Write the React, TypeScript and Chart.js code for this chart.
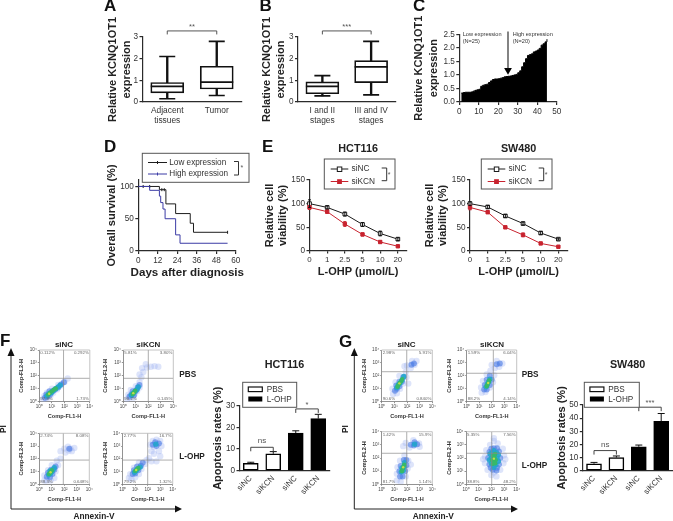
import React, { useEffect, useRef } from "react";
import { Chart, registerables } from "chart.js";
Chart.register(...registerables);

const CW = 760, CH = 560;
const INK = "#222", AX = "#2b2b2b", TICK = "#333";
const FAM = '"Liberation Sans", Arial, sans-serif';
Chart.defaults.font.family = FAM;

// ---------- data ----------
const A_CATS = [["Adjacent", "tissues"], "Tumor"];
const A_MIN = [0.15, 0.3], A_Q1 = [0.42, 0.6], A_MED = [0.72, 0.92], A_Q3 = [0.9, 1.65], A_MAX = [2.1, 2.8];
const B_CATS = [["I and II", "stages"], ["III and IV", "stages"]];
const B_MIN = [0.28, 0.33], B_Q1 = [0.38, 0.89], B_MED = [0.72, 1.62], B_Q3 = [0.93, 1.91], B_MAX = [1.22, 2.8];
const C_VALUES = [0.33, 0.35, 0.36, 0.36, 0.36, 0.37, 0.4, 0.43, 0.45, 0.47, 0.58, 0.62, 0.64, 0.66, 0.72, 0.78, 0.83, 0.85, 0.85, 0.86, 0.88, 0.9, 0.93, 0.94, 0.95, 0.96, 0.98, 1.0, 1.02, 1.08, 1.15, 1.3, 1.45, 1.6, 1.72, 1.75, 1.78, 1.85, 1.88, 1.92, 1.98, 2.1, 2.15, 2.22, 2.32];
const D_LOW_X = [0, 13, 17, 23, 32, 34, 55], D_LOW_Y = [100, 95, 73, 58, 43, 29, 29];
const D_HIGH_X = [0, 7, 13, 13.8, 15.2, 16.5, 23, 25.7, 55], D_HIGH_Y = [100, 94, 85, 75, 65, 50, 25, 12, 12];
const D_CENSOR_X = [3, 7, 14.5, 16, 55], D_CENSOR_Y = [100, 100, 95, 95, 29];
const E_DOSES = ["0", "1", "2.5", "5", "10", "20"];
const HCT_NC = [100, 92, 78, 56, 37, 25], HCT_NC_ERR = [8, 3, 4, 4, 5, 3];
const HCT_KCN = [92, 83, 57, 35, 19, 10], HCT_KCN_ERR = [4, 3, 5, 3, 2, 1];
const SW_NC = [100, 93, 74, 58, 38, 25], SW_NC_ERR = [4, 3, 3, 3, 3, 2];
const SW_KCN = [92, 82, 50, 34, 16, 9], SW_KCN_ERR = [5, 3, 2, 4, 2, 1];
const APO_CATS = ["siNC", "siKCN", "siNC", "siKCN"];
const F_APO = [3.4, 7.8, 17.3, 24], F_APO_ERR = [0.5, 1, 1.1, 2];
const G_APO = [5.3, 10, 18.2, 37.5], G_APO_ERR = [1, 1.2, 1.3, 6];
const DECADES = ["10⁰", "10¹", "10²", "10³", "10⁴"];

const F1_PCT = ["0.112%", "0.292%", "97.9%", "1.73%"];
const F1_PALE = [[0.3, 0.2], [0.5, 0.25], [0.4, 0.45], [0.7, 0.3], [0.9, 0.5], [0.6, 0.7], [1.1, 0.7], [1.0, 1.0], [1.4, 0.95], [1.7, 1.25], [1.5, 1.3], [2.0, 1.55], [2.25, 1.8]];
const F1_BLUE = [[0.45, 0.3], [0.65, 0.4], [0.55, 0.55], [0.85, 0.55], [0.8, 0.8], [1.05, 0.8], [1.25, 0.95], [1.5, 1.1], [1.75, 1.35], [1.95, 1.5]];
const F1_CYAN = [[0.6, 0.45], [0.75, 0.6], [0.95, 0.7], [1.1, 0.85], [1.3, 1.0], [1.5, 1.15], [1.65, 1.28]];
const F1_GREEN = [[0.7, 0.55], [0.85, 0.7], [1.0, 0.8], [1.15, 0.92], [1.3, 1.02]];
const F1_HOT = [[0.78, 0.62]];

const F2_PCT = ["5.81%", "3.80%", "90.2%", "0.145%"];
const F2_PALE = [[0.3, 0.2], [0.5, 0.3], [0.4, 0.55], [0.8, 0.3], [0.9, 0.6], [0.6, 0.9], [1.1, 0.8], [1.0, 1.2], [1.3, 1.1], [1.3, 1.5], [1.45, 1.9], [1.3, 2.1], [1.6, 2.3], [1.5, 2.6], [1.9, 2.65], [2.2, 2.7], [2.5, 2.75], [2.8, 2.7], [1.8, 2.9]];
const F2_BLUE = [[0.5, 0.4], [0.65, 0.55], [0.85, 0.5], [0.75, 0.8], [1.0, 0.85], [1.15, 1.1], [1.3, 1.3]];
const F2_CYAN = [[0.65, 0.5], [0.8, 0.65], [0.95, 0.8], [1.1, 0.95], [1.2, 1.15]];
const F2_GREEN = [[0.75, 0.6], [0.85, 0.72], [0.95, 0.85]];
const F2_HOT = [[0.8, 0.66]];

const F3_PCT = ["2.74%", "8.08%", "88.3%", "0.648%"];
const F3_PALE = [[0.4, 0.3], [0.6, 0.3], [0.4, 0.7], [0.9, 0.3], [1.2, 0.5], [0.7, 1.1], [1.3, 1.0], [1.0, 1.5], [1.5, 1.5], [1.4, 1.85], [1.7, 2.0], [1.7, 2.6], [2.0, 2.8], [2.3, 2.95], [2.6, 2.6], [2.8, 2.85], [2.1, 2.5], [2.5, 2.8], [2.35, 2.65]];
const F3_BLUE = [[0.6, 0.6], [0.85, 0.55], [0.7, 0.9], [1.05, 0.8], [0.95, 1.15], [1.2, 1.15], [1.3, 1.4], [2.4, 2.78]];
const F3_CYAN = [[0.75, 0.75], [0.9, 0.85], [1.0, 1.0], [0.85, 1.05], [1.1, 1.15], [1.2, 1.3]];
const F3_GREEN = [[0.78, 0.8], [0.85, 0.9], [0.95, 1.0], [1.0, 1.1]];
const F3_HOT = [[0.9, 0.95]];

const F4_PCT = ["2.77%", "16.7%", "79.2%", "1.32%"];
const F4_PALE = [[0.5, 0.5], [0.7, 0.4], [0.6, 0.8], [1.0, 0.55], [1.3, 0.8], [0.9, 1.3], [1.5, 1.2], [1.3, 1.7], [1.8, 1.6], [1.9, 1.9], [2.1, 2.05], [2.3, 1.8], [2.7, 1.8], [3.0, 2.2], [2.5, 2.4], [2.9, 2.6], [2.3, 2.6], [2.5, 2.9], [2.2, 3.1], [2.4, 3.4], [3.0, 3.4], [3.1, 3.0], [2.7, 3.5]];
const F4_BLUE = [[0.8, 0.8], [1.0, 0.85], [0.9, 1.1], [1.25, 1.1], [1.15, 1.4], [1.45, 1.45], [1.6, 1.7], [2.4, 3.1], [2.7, 3.0], [2.9, 3.2], [2.6, 3.3]];
const F4_CYAN = [[0.95, 0.95], [1.1, 1.1], [1.25, 1.25], [1.4, 1.35], [2.65, 3.15]];
const F4_GREEN = [[1.0, 1.05], [1.15, 1.2], [1.25, 1.28]];
const F4_HOT = [[1.08, 1.12]];

const G1_PCT = ["2.98%", "5.91%", "90.6%", "0.840%"];
const G1_PALE = [[0.9, 0.6], [1.2, 0.65], [0.85, 1.0], [1.45, 1.0], [1.1, 1.5], [1.7, 1.4], [1.4, 2.0], [1.95, 1.9], [1.9, 2.3], [2.1, 1.4], [2.0, 2.8], [1.8, 2.75], [2.3, 2.6], [2.6, 2.85], [2.4, 3.15], [2.75, 3.15]];
const G1_BLUE = [[1.05, 0.85], [1.2, 1.0], [1.15, 1.25], [1.4, 1.2], [1.4, 1.55], [1.6, 1.55], [1.7, 1.9], [2.35, 2.85], [2.55, 2.95]];
const G1_CYAN = [[1.2, 1.1], [1.3, 1.3], [1.45, 1.45], [1.6, 1.65], [1.75, 1.95]];
const G1_GREEN = [[1.25, 1.15], [1.3, 1.25], [1.42, 1.45], [1.55, 1.6], [1.62, 1.75]];
const G1_HOT = [[1.4, 1.42]];

const G2_PCT = ["1.59%", "6.04%", "88.2%", "4.14%"];
const G2_PALE = [[1.2, 0.7], [1.5, 0.75], [1.15, 1.1], [1.85, 1.1], [1.3, 1.6], [2.1, 1.5], [1.6, 2.1], [2.2, 2.05], [1.9, 2.4], [2.0, 2.85], [2.25, 2.6], [2.6, 2.7], [2.85, 2.95], [2.4, 3.15]];
const G2_BLUE = [[1.4, 0.95], [1.6, 0.95], [1.45, 1.3], [1.85, 1.3], [1.6, 1.7], [2.0, 1.7], [1.85, 2.0], [2.4, 2.9], [2.65, 2.95]];
const G2_CYAN = [[1.55, 1.15], [1.65, 1.35], [1.75, 1.55], [1.85, 1.75]];
const G2_GREEN = [[1.6, 1.2], [1.65, 1.3], [1.75, 1.5], [1.8, 1.65]];
const G2_HOT = [[1.72, 1.45]];

const G3_PCT = ["1.42%", "15.9%", "81.7%", "1.14%"];
const G3_PALE = [[1.2, 0.3], [1.5, 0.2], [1.2, 0.8], [1.9, 0.6], [1.25, 1.3], [2.05, 1.2], [1.45, 1.8], [2.1, 1.8], [1.8, 2.2], [2.3, 1.5], [1.7, 2.9], [1.9, 3.15], [2.2, 2.8], [2.5, 3.35], [2.95, 3.1], [3.0, 2.85]];
const G3_BLUE = [[1.45, 0.6], [1.65, 0.6], [1.4, 1.0], [1.85, 1.0], [1.5, 1.4], [1.95, 1.45], [1.75, 1.85], [1.95, 1.85], [2.3, 3.0], [2.55, 2.95], [2.8, 3.05], [2.6, 3.2]];
const G3_CYAN = [[1.55, 0.95], [1.7, 1.05], [1.6, 1.25], [1.8, 1.35], [1.8, 1.65], [2.6, 3.05]];
const G3_GREEN = [[1.6, 1.0], [1.65, 1.15], [1.72, 1.35], [1.78, 1.5]];
const G3_HOT = [[1.7, 1.3]];

const G4_PCT = ["5.35%", "7.56%", "38.8%", "48.2%"];
const G4_PALE = [[2.0, 0.7], [2.4, 0.6], [1.7, 1.1], [2.7, 1.1], [1.5, 1.6], [2.95, 1.6], [1.5, 2.1], [3.0, 2.2], [1.6, 2.6], [2.9, 2.7], [1.9, 3.0], [2.5, 3.1], [2.2, 3.3], [2.2, 0.9], [1.35, 1.9], [3.1, 1.9], [2.2, 3.5]];
const G4_BLUE = [[2.1, 1.1], [2.4, 1.05], [1.85, 1.5], [2.6, 1.5], [1.75, 2.0], [2.7, 2.0], [1.85, 2.45], [2.6, 2.5], [2.2, 2.75], [2.2, 1.5], [2.2, 2.3], [2.0, 2.7], [2.45, 2.75], [1.95, 1.25], [2.45, 1.25]];
const G4_CYAN = [[2.0, 1.6], [2.35, 1.5], [2.0, 2.0], [2.45, 2.0], [2.05, 2.4], [2.4, 2.4], [2.2, 1.3], [2.2, 1.7], [2.2, 2.2], [1.85, 1.85], [2.55, 1.75], [2.55, 2.25], [1.9, 2.3], [2.2, 2.55]];
const G4_GREEN = [[2.2, 1.75], [2.25, 2.05], [2.1, 2.15], [2.3, 2.3], [2.05, 1.85], [2.35, 1.85], [2.2, 2.2], [2.1, 1.55], [2.3, 1.6]];
const G4_HOT = [[2.2, 1.95]];

// ---------- drawing helpers ----------
const DRAW = new WeakMap();
function txt(ctx, s, x, y, size, opts: any = {}) {
  ctx.save();
  ctx.translate(x, y);
  if (opts.rot) ctx.rotate(opts.rot);
  ctx.font = `${opts.bold ? "bold " : ""}${size}px ${FAM}`;
  ctx.fillStyle = opts.color || INK;
  ctx.textAlign = opts.align || "left";
  ctx.textBaseline = "middle";
  ctx.fillText(s, 0, 0);
  ctx.restore();
}
function seg(ctx, pts, color = "#333", w = 1) {
  ctx.save();
  ctx.strokeStyle = color;
  ctx.lineWidth = w;
  ctx.beginPath();
  pts.forEach((p, i) => (i ? ctx.lineTo(p[0], p[1]) : ctx.moveTo(p[0], p[1])));
  ctx.stroke();
  ctx.restore();
}
function box(ctx, x0, y0, x1, y1) {
  ctx.save();
  ctx.fillStyle = "#fff";
  ctx.fillRect(x0, y0, x1 - x0, y1 - y0);
  ctx.strokeStyle = "#555";
  ctx.lineWidth = 1;
  ctx.strokeRect(x0, y0, x1 - x0, y1 - y0);
  ctx.restore();
}
function bracket(chart, ctx, a, b, yVal, drop, label, lblSize, lblGap, color = "#444") {
  const x = chart.scales.x, y = chart.scales.y;
  const xa = x.getPixelForValue(a), xb = x.getPixelForValue(b), yy = y.getPixelForValue(yVal);
  seg(ctx, [[xa, yy + drop], [xa, yy], [xb, yy], [xb, yy + drop]], color, 1);
  txt(ctx, label, (xa + xb) / 2, yy - lblGap, lblSize, { align: "center", color: "#555" });
}
const errPlugin = {
  id: "errs",
  afterDatasetsDraw(chart) {
    const ctx = chart.ctx;
    chart.data.datasets.forEach((ds: any, i) => {
      if (!ds.errs) return;
      const meta = chart.getDatasetMeta(i);
      const ys = chart.scales.y;
      ds.errs.forEach((e, j) => {
        const el = meta.data[j];
        const v = meta.controller.getParsed(j).y;
        const top = ys.getPixelForValue(v + e), bot = ys.getPixelForValue(ds.upOnly ? v : v - e);
        const c = ds.errColor || "#111";
        const w = ds.capW || 2;
        seg(ctx, [[el.x, bot], [el.x, top]], c, 1);
        seg(ctx, [[el.x - w, top], [el.x + w, top]], c, 1);
        if (!ds.upOnly) seg(ctx, [[el.x - w, bot], [el.x + w, bot]], c, 1);
      });
    });
  },
};

function axis(extra: any = {}, opt: any = {}) {
  const col = opt.color || AX;
  const lw = opt.lw || 1.2;
  return {
    border: { color: col, width: lw },
    grid: { drawOnChartArea: false, color: col, lineWidth: lw, tickLength: opt.tl ?? 3, drawTicks: opt.drawTicks ?? true },
    ...extra,
    ticks: {
      color: opt.tickColor || TICK,
      font: { size: opt.fs || 8.2 },
      padding: opt.tp ?? 1.5,
      autoSkip: false,
      maxRotation: 0,
      minRotation: 0,
      ...(extra.ticks || {}),
    },
  };
}
function titleOpt(text, size, lh, color = INK) {
  return { display: true, text, color, padding: 0, font: { size, weight: "bold", lineHeight: lh / size } };
}

// frame: positions the plot area inside the full-size overlay canvas
function frame(L, R, T, B, yTitleX, yLH, xEdge, titleY?, titleLH?) {
  const axisW = L - (yTitleX - yLH / 2);
  const axisH = xEdge - B;
  const out: any = {
    layout: { padding: { left: yTitleX - yLH / 2, right: CW - R, top: titleY ? 0 : T, bottom: CH - xEdge } },
    yFit: (s) => { s.width = axisW; },
    xFit: (s) => { s.height = axisH; },
  };
  if (titleY) {
    out.titlePadding = { top: titleY - titleLH / 2, bottom: T - titleY - titleLH / 2 };
  }
  return out;
}
function baseOptions(fr, scales, draw, title?) {
  const plugins: any = { legend: { display: false }, tooltip: { enabled: false } };
  if (title) {
    plugins.title = { display: true, text: title, fullSize: false, color: INK, font: { size: 10.8, weight: "bold", lineHeight: 1.2 }, padding: fr.titlePadding };
  }
  const o = { responsive: false, animation: false, layout: fr.layout, scales, plugins };
  DRAW.set(o, draw);
  return o;
}

// ---------- box plots ----------
function boxPanel(cats, mn, q1, med, q3, mx, L, R, titleX, stars, letter, letterX) {
  const fr = frame(L, R, 37, 102, titleX, 14, 127);
  const bw = 33;
  const cap = (data, r, order) => ({ type: "line", data, showLine: false, pointStyle: "line", pointRadius: r, pointBorderWidth: 1.7, pointBorderColor: "#111", order });
  return {
    type: "bar",
    data: {
      labels: cats,
      datasets: [
        cap(med, bw / 2, 1),
        { data: q1.map((v, i) => [v, q3[i]]), grouped: false, barThickness: bw, backgroundColor: "#fff", borderColor: "#111", borderWidth: 1.7, borderSkipped: false, order: 2 },
        { data: mn.map((v, i) => [v, mx[i]]), grouped: false, barThickness: 1.7, backgroundColor: "#111", order: 3 },
        cap(mn, 8, 4),
        cap(mx, 8, 4),
      ],
    },
    options: baseOptions(fr, {
      x: axis({ afterFit: fr.xFit }, { drawTicks: false, tp: 3.5, fs: 8.4 }),
      y: axis({ min: 0, max: 3, ticks: { stepSize: 1 }, afterFit: fr.yFit, title: titleOpt(["Relative KCNQ1OT1", "expression"], 11, 14) }),
    }, (ctx, ch) => {
      txt(ctx, letter, letterX, 6, 17, { bold: true, color: "#111" });
      bracket(ch, ctx, 0, 1, 3.28, 3.5, stars, 7.5, 4, "#555");
    }),
  };
}

// ---------- viability ----------
function viability(title, nc, ncE, kcn, kcnE, L, yX, lx, extra) {
  const R = L + 97.2;
  const fr = frame(L, R, 180, 251, yX, 13.4, 279, 149.3, 13);
  const pts = (a) => a.map((y, i) => ({ x: i, y }));
  return {
    type: "scatter",
    data: {
      datasets: [
        { data: pts(kcn), showLine: true, borderColor: "#c8232f", borderWidth: 1, pointStyle: "rect", pointRadius: 2.4, pointBackgroundColor: "#c8232f", pointBorderColor: "#c8232f", errs: kcnE, errColor: "#c8232f", capW: 1.5, clip: false },
        { data: pts(nc), showLine: true, borderColor: "#1c1c1c", borderWidth: 1, pointStyle: "rect", pointRadius: 2.6, pointBorderWidth: 1, pointBackgroundColor: "#fff", pointBorderColor: "#1c1c1c", errs: ncE, capW: 1.5, clip: false },
      ],
    },
    options: baseOptions(fr, {
      x: axis({ type: "linear", min: 0, max: 5.5, afterFit: fr.xFit, title: titleOpt("L-OHP (μmol/L)", 11, 14), ticks: { stepSize: 1, includeBounds: false, callback: (v) => E_DOSES[v] } }, { fs: 7.9, tl: 2.5 }),
      y: axis({ min: 0, max: 150, ticks: { stepSize: 50 }, afterFit: fr.yFit, title: titleOpt(["Relative cell", "viability (%)"], 11, 13.4) }),
    }, (ctx) => {
      box(ctx, lx, 159, lx + 70.7, 189);
      seg(ctx, [[lx + 6.4, 169], [lx + 24, 169]], "#1c1c1c", 1);
      ctx.save(); ctx.fillStyle = "#fff"; ctx.strokeStyle = "#1c1c1c"; ctx.fillRect(lx + 13, 167, 4.5, 4.5); ctx.strokeRect(lx + 13, 167, 4.5, 4.5); ctx.restore();
      seg(ctx, [[lx + 6.4, 181.5], [lx + 24, 181.5]], "#c8232f", 1);
      ctx.save(); ctx.fillStyle = "#c8232f"; ctx.fillRect(lx + 12.8, 179.2, 4.8, 4.8); ctx.restore();
      txt(ctx, "siNC", lx + 27.2, 169, 8.3, { color: "#333" });
      txt(ctx, "siKCN", lx + 27.2, 181.7, 8.3, { color: "#333" });
      seg(ctx, [[lx + 57.4, 168], [lx + 62.4, 168], [lx + 62.4, 180.7], [lx + 57.4, 180.7]], "#333", 1);
      txt(ctx, "*", lx + 63.4, 175.5, 7, { color: "#555" });
      if (extra) extra(ctx);
    }, title),
  };
}

// ---------- apoptosis bars ----------
function apoptosis(title, vals, errs, L, R, T, yMax, yStep, yX, br, legX, legX2, extra) {
  const fr = frame(L, R, T, 470.7, yX, 14, 497, 365, 13);
  return {
    type: "bar",
    data: {
      labels: APO_CATS,
      datasets: [{ data: vals, errs, upOnly: true, capW: 3.5, barThickness: 15, backgroundColor: ["#fff", "#fff", "#000", "#000"], borderColor: "#000", borderWidth: 1.5, borderSkipped: false }],
    },
    options: baseOptions(fr, {
      x: axis({ afterFit: fr.xFit, ticks: { minRotation: 45, maxRotation: 45 } }, { drawTicks: false, tp: 3, fs: 8 }),
      y: axis({ min: 0, max: yMax, ticks: { stepSize: yStep }, afterFit: fr.yFit, title: titleOpt("Apoptosis rates (%)", 11, 14) }),
    }, (ctx, ch) => {
      bracket(ch, ctx, 0, 1, br[0], 4, "ns", 8, 6);
      bracket(ch, ctx, 2, 3, br[1], 4, br[2], 7.5, 4);
      box(ctx, legX, 382.3, legX2, 407.3);
      ctx.save();
      ctx.strokeStyle = "#111"; ctx.lineWidth = 1.2; ctx.fillStyle = "#fff";
      ctx.fillRect(legX + 5.6, 387, 14, 4.6); ctx.strokeRect(legX + 5.6, 387, 14, 4.6);
      ctx.fillStyle = "#000"; ctx.fillRect(legX + 5.6, 396.5, 14, 5);
      ctx.restore();
      txt(ctx, "PBS", legX + 24, 389.5, 8.2, { color: "#333" });
      txt(ctx, "L-OHP", legX + 24, 399.5, 8.2, { color: "#333" });
      if (extra) extra(ctx);
    }, title),
  };
}

// ---------- flow cytometry ----------
const LAYERS = [
  { r: 3.2, c: "rgba(150,172,238,0.32)" },
  { r: 3.0, c: "rgba(70,120,228,0.6)" },
  { r: 2.7, c: "rgba(35,165,205,0.9)" },
  { r: 2.2, c: "rgba(55,185,105,1)" },
  { r: 1.2, c: "rgba(195,222,70,1)" },
];
function flow(clouds, pct, gx, gy, L, R, T, B, yX, xY, extra) {
  const fr = frame(L, R, T, B, yX, 6.6, xY + 3.3);
  const pts = (a) => a.map(([x, y]) => ({ x, y }));
  const gate = "#8a8a8a";
  const dec = { type: "linear", min: 0, max: 4, ticks: { stepSize: 1, includeBounds: false, callback: (v) => DECADES[v] } };
  const st = { color: "#777", lw: 0.8, fs: 4.6, tl: 1.5, tp: 1, tickColor: "#444" };
  return {
    type: "scatter",
    blur: true,
    data: {
      datasets: [
        { data: [{ x: gx, y: 0 }, { x: gx, y: 4 }], showLine: true, borderColor: gate, borderWidth: 0.7, pointRadius: 0, order: 0 },
        { data: [{ x: 0, y: gy }, { x: 4, y: gy }], showLine: true, borderColor: gate, borderWidth: 0.7, pointRadius: 0, order: 0 },
        ...clouds.map((c, i) => ({ data: pts(c), pointRadius: LAYERS[i].r, pointBackgroundColor: LAYERS[i].c, pointBorderWidth: 0, order: 10 - i })),
      ],
    },
    options: baseOptions(fr, {
      x: axis({ ...dec, afterFit: fr.xFit, title: titleOpt("Comp-FL1-H", 5.6, 6.6, "#333") }, st),
      y: axis({ ...dec, afterFit: fr.yFit, title: titleOpt("Comp-FL2-H", 5.6, 6.6, "#333") }, st),
    }, (ctx, ch) => {
      const a = ch.chartArea;
      seg(ctx, [[a.left, a.top], [a.right, a.top], [a.right, a.bottom]], "#aaa", 0.7);
      const c = { size: 4.4, color: "#666" };
      txt(ctx, pct[0], a.left + 1, a.top + 2.8, c.size, { color: c.color });
      txt(ctx, pct[1], a.right - 1, a.top + 2.8, c.size, { color: c.color, align: "right" });
      txt(ctx, pct[2], a.left + 1, a.bottom - 2.8, c.size, { color: c.color });
      txt(ctx, pct[3], a.right - 1, a.bottom - 2.8, c.size, { color: c.color, align: "right" });
      if (extra) extra(ctx);
    }),
  };
}
function axesArrows(ctx, ax, tipX, piX, annoX) {
  seg(ctx, [[ax, 356], [ax, 509], [tipX - 4, 509]], "#222", 1);
  ctx.save();
  ctx.fillStyle = "#111";
  ctx.beginPath(); ctx.moveTo(ax, 348); ctx.lineTo(ax - 3.5, 356); ctx.lineTo(ax + 3.5, 356); ctx.closePath(); ctx.fill();
  ctx.beginPath(); ctx.moveTo(tipX + 2, 509); ctx.lineTo(tipX - 5, 505.5); ctx.lineTo(tipX - 5, 512.5); ctx.closePath(); ctx.fill();
  ctx.restore();
  txt(ctx, "PI", piX, 429, 8.3, { bold: true, rot: -Math.PI / 2, align: "center" });
  txt(ctx, "Annexin-V", annoX, 516.5, 8.3, { bold: true, align: "center" });
}

// ---------- panels ----------
const panelA = () => boxPanel(A_CATS, A_MIN, A_Q1, A_MED, A_Q3, A_MAX, 142.5, 241.5, 112.7, "**", "A", 104);
const panelB = () => boxPanel(B_CATS, B_MIN, B_Q1, B_MED, B_Q3, B_MAX, 298, 395.5, 266.7, "***", "B", 259.5);

const panelC = () => {
  const fr = frame(459.3, 556.7, 34.3, 102, 419.3, 14.5, 117);
  return {
    type: "scatter",
    data: {
      datasets: [
        { data: C_VALUES.map((y, i) => ({ x: i + 1, y })), showLine: true, stepped: "before", fill: "origin", backgroundColor: "#000", borderColor: "#000", borderWidth: 1, pointRadius: 0 },
        { data: [{ x: 25, y: 2.6 }, { x: 25, y: 1.25 }], showLine: true, borderColor: "#333", borderWidth: 1.2, pointRadius: 0, clip: false },
        { data: [{ x: 25, y: 1.17 }], pointStyle: "triangle", rotation: 180, pointRadius: 4.5, pointBackgroundColor: "#000", pointBorderWidth: 0, clip: false },
      ],
    },
    options: baseOptions(fr, {
      x: axis({ type: "linear", min: 0, max: 50, ticks: { stepSize: 10 }, afterFit: fr.xFit }),
      y: axis({ min: 0, max: 2.5, ticks: { stepSize: 0.5, callback: (v) => Number(v).toFixed(1) }, afterFit: fr.yFit, title: titleOpt(["Relative KCNQ1OT1", "expression"], 11, 14.5) }),
    }, (ctx) => {
      txt(ctx, "C", 413, 6, 17, { bold: true, color: "#111" });
      txt(ctx, "Low expression", 462.7, 34, 5.6, { color: "#333" });
      txt(ctx, "(N=25)", 462.7, 41, 5.6, { color: "#333" });
      txt(ctx, "High expression", 512.7, 34, 5.6, { color: "#333" });
      txt(ctx, "(N=20)", 512.7, 41, 5.6, { color: "#333" });
    }),
  };
};

const panelD = () => {
  const fr = frame(138.3, 235.7, 180, 251, 112.3, 14.4, 279);
  const pts = (xs, ys) => xs.map((x, i) => ({ x, y: ys[i] }));
  return {
    type: "scatter",
    data: {
      datasets: [
        { data: pts(D_HIGH_X, D_HIGH_Y), showLine: true, stepped: "before", borderColor: "#3b3ba5", borderWidth: 1, pointRadius: 0, clip: false },
        { data: pts(D_LOW_X, D_LOW_Y), showLine: true, stepped: "before", borderColor: "#1d1d1d", borderWidth: 1, pointRadius: 0, clip: false },
        { data: pts(D_CENSOR_X, D_CENSOR_Y), pointStyle: "line", rotation: 90, pointRadius: 1.5, pointBorderWidth: 1, pointBorderColor: "#1d1d1d" },
      ],
    },
    options: baseOptions(fr, {
      x: axis({ type: "linear", min: 0, max: 60, ticks: { stepSize: 12 }, afterFit: fr.xFit }),
      y: axis({ min: 0, max: 110, ticks: { stepSize: 50, includeBounds: false }, afterFit: fr.yFit, title: titleOpt("Overall survival (%)", 11, 14.4) }),
    }, (ctx) => {
      txt(ctx, "D", 104, 147.7, 17, { bold: true, color: "#111" });
      box(ctx, 142.3, 153.3, 249, 182.3);
      seg(ctx, [[148, 162.5], [167, 162.5]], "#1d1d1d", 1);
      seg(ctx, [[157.5, 161], [157.5, 164]], "#1d1d1d", 1);
      seg(ctx, [[148, 174], [167, 174]], "#3b3ba5", 1);
      seg(ctx, [[157.5, 172.5], [157.5, 175.5]], "#3b3ba5", 1);
      txt(ctx, "Low expression", 169.3, 162.7, 8.2, { color: "#333" });
      txt(ctx, "High expression", 169.3, 174, 8.2, { color: "#333" });
      seg(ctx, [[234, 161.5], [238.5, 161.5], [238.5, 175], [234, 175]], "#333", 1);
      txt(ctx, "*", 240.5, 168.5, 7, { color: "#555" });
      txt(ctx, "Days after diagnosis", 187.3, 272.3, 11.6, { bold: true, align: "center" });
    }),
  };
};

const panelE1 = () => viability("HCT116", HCT_NC, HCT_NC_ERR, HCT_KCN, HCT_KCN_ERR, 309.5, 270, 324.3, (ctx) => txt(ctx, "E", 262, 147.3, 17, { bold: true, color: "#111" }));
const panelE2 = () => viability("SW480", SW_NC, SW_NC_ERR, SW_KCN, SW_KCN_ERR, 470, 430, 481.3, null);

const panelF = () => apoptosis("HCT116", F_APO, F_APO_ERR, 239.5, 329.5, 405.7, 30, 10, 218.3, [10.8, 28.5, "*"], 242.7, 296.7, null);
const panelG = () => apoptosis("SW480", G_APO, G_APO_ERR, 582.8, 672.4, 405, 50, 10, 562, [15.3, 48.3, "***"], 584.3, 639.3, null);

const flowFill = (a, b, c) => (ctx) => {
  txt(ctx, a, b, c, 8, { bold: true, align: "center" });
};
const panels = [
  panelA, panelB, panelC, panelD, panelE1, panelE2, panelF, panelG,
  () => flow([F1_PALE, F1_BLUE, F1_CYAN, F1_GREEN, F1_HOT], F1_PCT, 1.92, 1.81, 39.3, 89.8, 350, 401.7, 21.7, 416.7, (ctx) => {
    txt(ctx, "F", 0, 341.5, 17, { bold: true, color: "#111" });
    flowFill("siNC", 64, 344.3)(ctx);
    flowFill("siKCN", 148.3, 344.3)(ctx);
    txt(ctx, "PBS", 179.3, 375, 8.2, { bold: true });
    txt(ctx, "L-OHP", 179.3, 456.7, 8.2, { bold: true });
    axesArrows(ctx, 11, 180, 3.5, 94);
  }),
  () => flow([F2_PALE, F2_BLUE, F2_CYAN, F2_GREEN, F2_HOT], F2_PCT, 2.0, 1.81, 123.3, 173.3, 350, 401.7, 105.5, 416.7, null),
  () => flow([F3_PALE, F3_BLUE, F3_CYAN, F3_GREEN, F3_HOT], F3_PCT, 1.92, 1.9, 39.3, 89.3, 433.3, 484.3, 21.7, 499.3, null),
  () => flow([F4_PALE, F4_BLUE, F4_CYAN, F4_GREEN, F4_HOT], F4_PCT, 2.0, 1.9, 122.7, 172.7, 433.3, 484.3, 105, 499.3, null),
  () => flow([G1_PALE, G1_BLUE, G1_CYAN, G1_GREEN, G1_HOT], G1_PCT, 1.98, 2.32, 381.7, 432.3, 350, 401.7, 364.5, 416.7, (ctx) => {
    txt(ctx, "G", 339, 342, 17, { bold: true, color: "#111" });
    flowFill("siNC", 406.5, 344.3)(ctx);
    flowFill("siKCN", 492, 344.3)(ctx);
    txt(ctx, "PBS", 521.7, 375, 8.2, { bold: true });
    txt(ctx, "L-OHP", 521.7, 466, 8.2, { bold: true });
    axesArrows(ctx, 354.3, 516, 345.7, 433.3);
  }),
  () => flow([G2_PALE, G2_BLUE, G2_CYAN, G2_GREEN, G2_HOT], G2_PCT, 2.13, 2.2, 466.7, 516.7, 350, 401.7, 449, 416.7, null),
  () => flow([G3_PALE, G3_BLUE, G3_CYAN, G3_GREEN, G3_HOT], G3_PCT, 1.98, 2.36, 381.7, 432.3, 431.7, 484.3, 364.5, 499.3, null),
  () => flow([G4_PALE, G4_BLUE, G4_CYAN, G4_GREEN, G4_HOT], G4_PCT, 2.03, 2.36, 466, 516.7, 431.7, 484.3, 449, 499.3, null),
];

function Panel({ make }: any) {
  const ref = useRef<HTMLCanvasElement>(null);
  useEffect(() => {
    const cfg: any = make();
    const draw = DRAW.get(cfg.options);
    cfg.plugins = [{ id: "notes", afterDraw: (ch) => draw(ch.ctx, ch) }, errPlugin];
    if (cfg.blur) ref.current.style.filter = "blur(0.45px)";
    const chart = new Chart(ref.current, cfg);
    return () => chart.destroy();
  }, [make]);
  return <canvas ref={ref} width={CW} height={CH} style={{ position: "absolute", left: 0, top: 0, width: CW, height: CH, pointerEvents: "none" }} />;
}

export default function App() {
  return (
    <div style={{ position: "fixed", left: 0, top: 0, width: 673, height: 521, overflow: "hidden", background: "#fff", filter: "blur(0.35px)" }}>
      {panels.map((p, i) => <Panel key={i} make={p} />)}
    </div>
  );
}
